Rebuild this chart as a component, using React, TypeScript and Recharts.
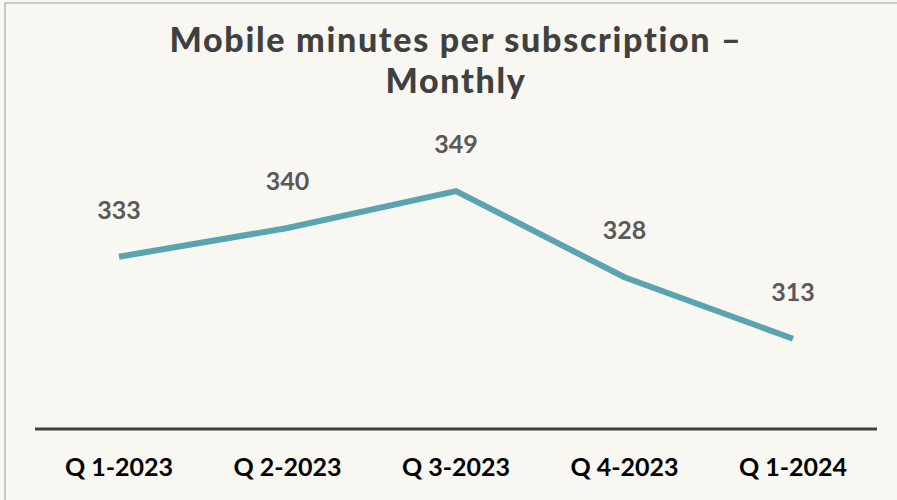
import { LineChart, Line, XAxis, YAxis, LabelList } from "recharts";

const quarters = ["Q 1-2023", "Q 2-2023", "Q 3-2023", "Q 4-2023", "Q 1-2024"];
const minutes = [333, 340, 349, 328, 313];
const titleLines = ["Mobile minutes per subscription –", "Monthly"];

const data = quarters.map((quarter, i) => ({ quarter, minutes: minutes[i] }));

const titleStyle = {
  position: "absolute" as const,
  left: 0,
  width: 912,
  height: 41,
  textAlign: "center" as const,
  fontFamily: "Lato, sans-serif",
  fontWeight: 900,
  fontSize: 34,
  letterSpacing: 1.7,
  lineHeight: "41px",
  color: "#404040",
  whiteSpace: "nowrap" as const,
};

export default function App() {
  return (
    <div
      style={{
        position: "absolute",
        left: 0,
        top: 0,
        width: 897,
        height: 500,
        background: "#f9f7f1",
        overflow: "hidden",
      }}
    >
      <div
        style={{
          position: "absolute",
          left: 4,
          top: 2,
          width: 900,
          height: 510,
          borderTop: "2px solid #c9c9c9",
          borderLeft: "2px solid #c9c9c9",
        }}
      />
      <div style={{ ...titleStyle, top: 18 }}>{titleLines[0]}</div>
      <div style={{ ...titleStyle, top: 59 }}>{titleLines[1]}</div>
      <LineChart
        width={897}
        height={500}
        data={data}
        margin={{ top: 146, right: 20, bottom: 0, left: 35 }}
      >
        <XAxis
          dataKey="quarter"
          padding={{ left: 84, right: 84 }}
          axisLine={{ stroke: "#404040", strokeWidth: 3 }}
          tickLine={false}
          tickMargin={23}
          tick={{ fill: "#000", fontSize: 25, fontWeight: 700, fontFamily: "Lato, sans-serif" }}
          height={71}
        />
        <YAxis hide domain={[291, 360]} />
        <Line
          type="linear"
          dataKey="minutes"
          stroke="#5aa4b1"
          strokeWidth={6}
          dot={false}
          isAnimationActive={false}
        >
          <LabelList
            dataKey="minutes"
            position="top"
            offset={38}
            fill="#595959"
            fontSize={25}
            fontWeight={700}
            fontFamily="Lato, sans-serif"
          />
        </Line>
      </LineChart>
    </div>
  );
}
